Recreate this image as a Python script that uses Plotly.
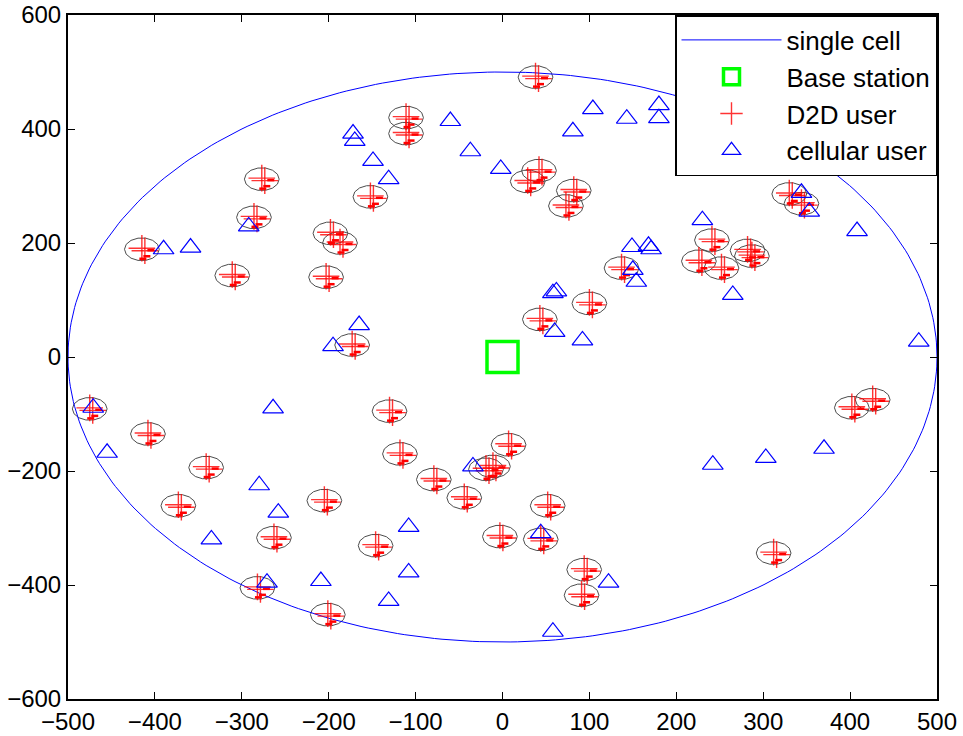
import numpy as np
import plotly.graph_objects as go

# ---------------- data ----------------
# D2D cluster centres (each cluster holds a D2D pair)
d2d_x = [38, -111, -111, -277, -152, -286, -415, -198, -187, -311,
         -203, -173, 42, 29, 82, 73, 100, 137, 43, 330,
         344, 241, 226, 252, 282, 287, 402, 426, -475, -408,
         -341, -373, -205, -263, -282, -201, -130, -118, -146, -79,
         -44, 7, -19, -11, -3, 52, 44, 94, 91, 312]
d2d_y = [491, 420, 392, 312, 281, 245, 189, 217, 200, 143,
         140, 21, 327, 308, 292, 265, 94, 156, 66, 286,
         269, 205, 168, 156, 187, 177, -89, -75, -91, -135,
         -194, -261, -252, -317, -405, -452, -95, -170, -331, -215,
         -247, -154, -197, -192, -315, -261, -320, -373, -418, -344]

# cellular users
cell_x = [-172, -170, -60, -37, -149, -131, -2, 104, 81, 143,
          180, 180, -292, -359, -390, -165, -195, 62, 58, 60,
          92, 149, 168, 171, 150, 154, 230, 265, 408, 344,
          353, 479, -471, -264, -455, -280, -258, -335, -271, -209,
          -108, -108, -131, -34, 44, 122, 58, 242, 303, 370]
cell_y = [392, 379, 414, 361, 344, 312, 330, 435, 396, 418,
          442, 419, 229, 192, 189, 56, 19, 115, 112, 44,
          29, 193, 195, 189, 153, 132, 240, 109, 221, 288,
          255, 27, -89, -90, -168, -225, -273, -320, -396, -393,
          -298, -378, -428, -192, -309, -396, -482, -189, -177, -161]

bs_x = [0]
bs_y = [0]

cell_radius = 500
cluster_radius = 20

x_ticks = [-500, -400, -300, -200, -100, 0, 100, 200, 300, 400, 500]
y_ticks = [-600, -400, -200, 0, 200, 400, 600]

# ---------------- geometry helpers ----------------
W, H = 963, 736
ml, mr, mt, mb = 68, 26, 15, 37
pxx = (W - ml - mr) / 1000.0    # px per x unit
pxy = (H - mt - mb) / 1200.0    # px per y unit

def off(px, py):
    return px / pxx, -py / pxy

th = np.linspace(0, 2 * np.pi, 361)
big_x = cell_radius * np.cos(th)
big_y = cell_radius * np.sin(th)

# small cluster circles (coarse polygons)
ths = np.linspace(0, 2 * np.pi, 15)
cx_all, cy_all = [], []
for cx, cy in zip(d2d_x, d2d_y):
    cx_all += list(cx + cluster_radius * np.cos(ths)) + [None]
    cy_all += list(cy + cluster_radius * np.sin(ths)) + [None]

# plus marks (offset copies per pair) and short link dashes
p_off = [off(0, -1), off(3, 1.5)]
d_off = [off(9, 1), off(5, 7), off(1, 9.5)]
px_, py_ = [], []
for cx, cy in zip(d2d_x, d2d_y):
    for dx, dy in p_off:
        px_.append(cx + dx); py_.append(cy + dy)
dx_, dy_ = [], []
for cx, cy in zip(d2d_x, d2d_y):
    for dx, dy in d_off:
        dx_.append(cx + dx); dy_.append(cy + dy)

fig = go.Figure()

fig.add_trace(go.Scatter(x=cx_all, y=cy_all, mode="lines",
                         line=dict(color="#4d4d4d", width=1),
                         showlegend=False, hoverinfo="skip"))

fig.add_trace(go.Scatter(x=big_x, y=big_y, mode="lines", name="single cell",
                         line=dict(color="#0000ff", width=1),
                         legendgroup="a", legendrank=1))

fig.add_trace(go.Scatter(x=bs_x, y=bs_y, mode="markers", name="Base station",
                         marker=dict(symbol="square-open", size=31, color="#00ff00",
                                     line=dict(color="#00ff00", width=3.5)),
                         legendgroup="b", legendrank=2))

fig.add_trace(go.Scatter(x=px_, y=py_, mode="markers", name="D2D user",
                         marker=dict(symbol="cross-thin", size=19, color="rgba(255,0,0,0.8)",
                                     line=dict(color="rgba(255,0,0,0.8)", width=1.4)),
                         legendgroup="c", legendrank=3))
fig.add_trace(go.Scatter(x=dx_, y=dy_, mode="markers", showlegend=False,
                         marker=dict(symbol="line-ew", size=5, color="#ff0000",
                                     line=dict(color="#ff0000", width=2.5)),
                         legendgroup="c", hoverinfo="skip"))

fig.add_trace(go.Scatter(x=cell_x, y=cell_y, mode="markers", name="cellular user",
                         marker=dict(symbol="triangle-up-open", size=18, color="#0000ff",
                                     line=dict(color="#0000ff", width=1.2)),
                         legendgroup="d", legendrank=4))

axis_common = dict(showgrid=False, zeroline=False, showline=True, linecolor="black",
                   linewidth=2, mirror="ticks", ticks="inside", ticklen=7,
                   tickcolor="black", tickwidth=1, automargin=False,
                   tickfont=dict(family="Liberation Sans Narrow, Arial Narrow, Liberation Sans, sans-serif",
                                 size=24, color="black"))

fig.update_layout(
    width=W, height=H,
    margin=dict(l=ml, r=mr, t=mt, b=mb, pad=0, autoexpand=False),
    paper_bgcolor="white", plot_bgcolor="white",
    xaxis=dict(range=[-500, 500], tickmode="array", tickvals=x_ticks, **axis_common),
    yaxis=dict(range=[-600, 600], tickmode="array", tickvals=y_ticks, **axis_common),
    legend=dict(x=1, xanchor="right", y=1, yanchor="top", bgcolor="white",
                bordercolor="black", borderwidth=1.5, traceorder="grouped",
                tracegroupgap=0, itemwidth=100,
                font=dict(family="Liberation Sans, Arial, sans-serif", size=26, color="black")),
    showlegend=True,
)

fig.write_html("out.html", config={"displayModeBar": False},
               post_script="document.body.style.margin='0px';document.body.style.overflow='hidden';")
